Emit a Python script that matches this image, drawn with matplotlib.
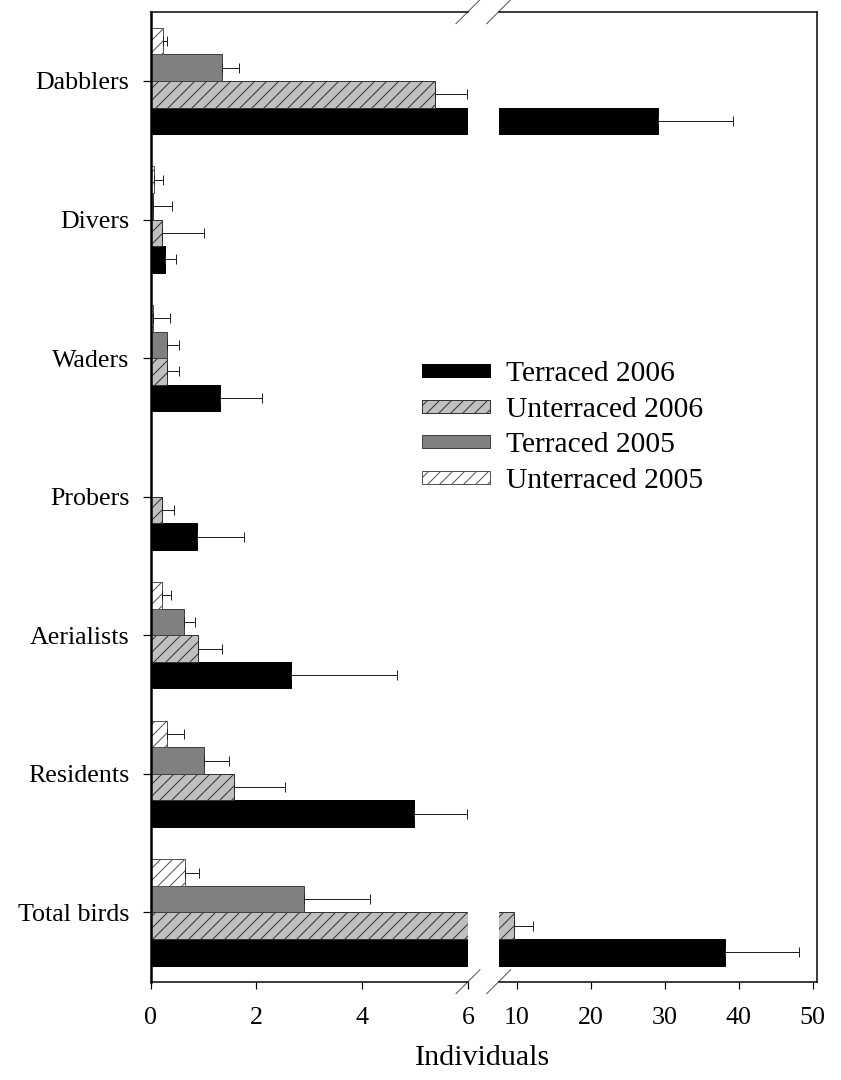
import numpy as np
import matplotlib
matplotlib.use("Agg")
import matplotlib.pyplot as plt
from matplotlib.patches import Patch

plt.rcParams['font.family'] = ['Liberation Serif', 'DejaVu Serif']
plt.rcParams['hatch.linewidth'] = 1.0

# guild categories, bottom to top
categories = ['Total birds', 'Residents', 'Aerialists', 'Probers', 'Waders', 'Divers', 'Dabblers']

# mean individuals per survey
terr_2006 = [38.2, 4.98, 2.66, 0.88, 1.31, 0.28, 29.1]
unterr_2006 = [9.7, 1.57, 0.90, 0.22, 0.32, 0.22, 5.38]
terr_2005 = [2.91, 1.01, 0.63, 0.0, 0.32, 0.05, 1.36]
unterr_2005 = [0.66, 0.31, 0.22, 0.0, 0.05, 0.07, 0.24]

# standard errors (upper side only)
terr_2006_se = [9.9, 1.00, 1.99, 0.88, 0.79, 0.20, 10.1]
unterr_2006_se = [2.55, 0.98, 0.46, 0.22, 0.22, 0.79, 0.61]
terr_2005_se = [1.24, 0.47, 0.21, 0.0, 0.22, 0.35, 0.32]
unterr_2005_se = [0.25, 0.33, 0.17, 0.0, 0.31, 0.16, 0.07]

series = [
    ('Terraced 2006', terr_2006, terr_2006_se, dict(color='black', edgecolor='black', hatch=None)),
    ('Unterraced 2006', unterr_2006, unterr_2006_se, dict(color='#c0c0c0', edgecolor='#333333', hatch='//')),
    ('Terraced 2005', terr_2005, terr_2005_se, dict(color='#808080', edgecolor='#404040', hatch=None)),
    ('Unterraced 2005', unterr_2005, unterr_2005_se, dict(color='white', edgecolor='#555555', hatch='//')),
]

W, H = 841, 1080
fig = plt.figure(figsize=(W / 72, H / 72), dpi=72)

y0, y1 = 981.7, 11.7
ax_l = fig.add_axes([150.5 / W, 1 - y0 / H, (468 - 150.5) / W, (y0 - y1) / H])
ax_r = fig.add_axes([498.7 / W, 1 - y0 / H, (817 - 498.7) / W, (y0 - y1) / H])

ypos = np.arange(len(categories))
h = 0.192
offsets = [-1.5 * h, -0.5 * h, 0.5 * h, 1.5 * h]

for ax in (ax_l, ax_r):
    for (name, vals, se, st), off in zip(series, offsets):
        ax.barh(ypos + off, vals, height=h, color=st['color'], edgecolor=st['edgecolor'],
                hatch=st['hatch'], linewidth=1.0, label=name)
        err = [np.zeros(len(se)), se]
        ax.errorbar(vals, ypos + off, xerr=err, fmt='none', ecolor='#222222',
                    elinewidth=1.0, capsize=5, capthick=1.0)
    ax.set_ylim(-0.5, len(categories) - 0.5)
    ax.tick_params(axis='x', direction='out', length=7, width=1.2, labelsize=26, pad=18)

ax_l.set_xlim(0, 6)
ax_l.set_xticks([0, 2, 4, 6])
ax_l.set_yticks(ypos)
ax_l.set_yticklabels(categories)
ax_l.tick_params(axis='y', direction='out', length=8, width=1.2, labelsize=26, pad=13)
ax_l.spines['right'].set_visible(False)
ax_l.spines['left'].set_linewidth(2.5)
ax_l.spines['top'].set_linewidth(1.5)
ax_l.spines['bottom'].set_linewidth(1.5)

ax_r.set_xlim(7.57, 50.6)
ax_r.set_xticks([10, 20, 30, 40, 50])
ax_r.set_yticks([])
ax_r.spines['left'].set_visible(False)
for s in ('top', 'bottom', 'right'):
    ax_r.spines[s].set_linewidth(1.5)

# diagonal break marks at the panel edges
for ax, xa, wpx in ((ax_l, 1.0, 317.5), (ax_r, 0.0, 318.3)):
    dx = 12 / wpx
    dy = 12 / (y0 - y1)
    for ya in (0.0, 1.0):
        ax.plot([xa - dx, xa + dx], [ya - dy, ya + dy], transform=ax.transAxes,
                color='#555555', lw=1.0, clip_on=False)

handles = [Patch(facecolor=st['color'], edgecolor=st['edgecolor'], hatch=st['hatch'], linewidth=1.0)
           for _, _, _, st in series]
labels = [name for name, _, _, _ in series]
fig.legend(handles, labels, loc='center left', bbox_to_anchor=(421.7 / W, 1 - 427.5 / H),
           frameon=False, fontsize=29.5, handlelength=2.3, handleheight=0.3,
           handletextpad=0.55, labelspacing=0.32, borderpad=0, borderaxespad=0)

fig.text(483 / W, 1 - 1058 / H, 'Individuals', ha='center', va='center', fontsize=30)

fig.savefig('out.png', dpi=72, facecolor='white')
